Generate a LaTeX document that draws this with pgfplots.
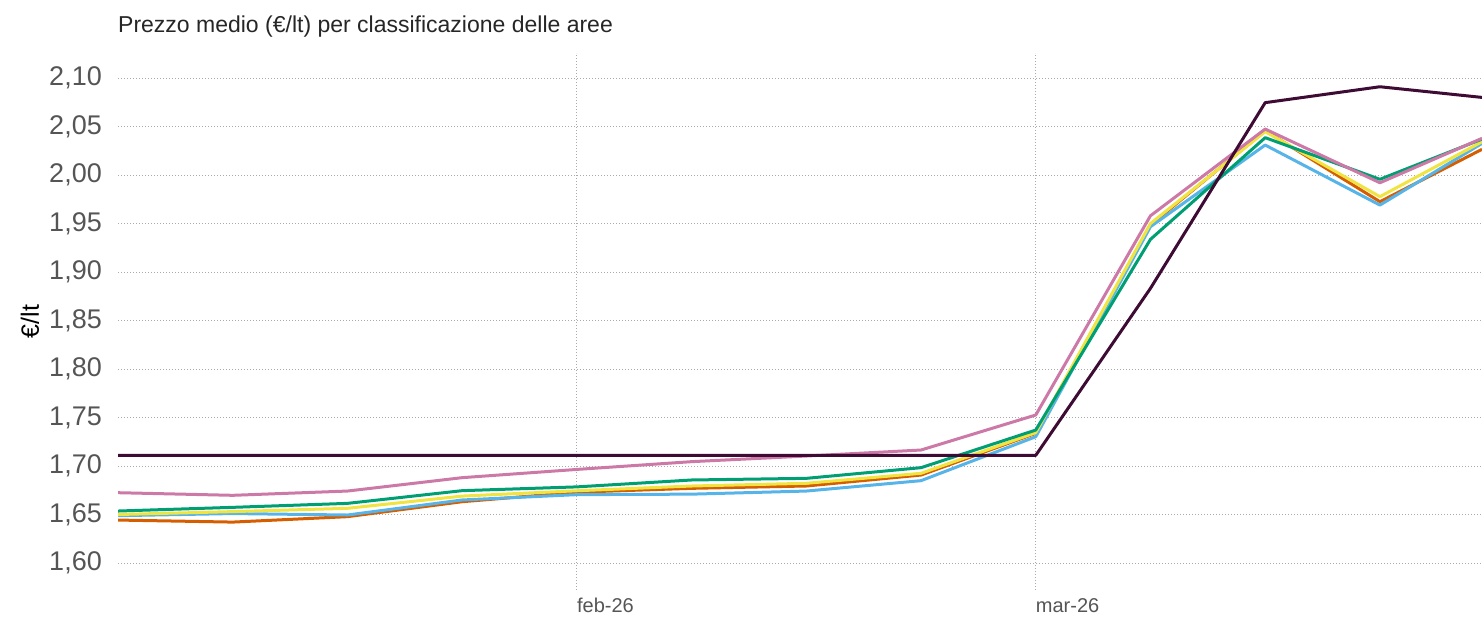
\documentclass[border=0pt]{standalone}
\usepackage{fontspec}
\setmainfont{Liberation Sans}
\usepackage{pgfplots}
\pgfplotsset{compat=1.18}
\definecolor{cblack}{HTML}{3D0B34}
\definecolor{cpink}{HTML}{CC79A7}
\definecolor{cgreen}{HTML}{009E73}
\definecolor{cyellow}{HTML}{F0E442}
\definecolor{corange}{HTML}{D55E00}
\definecolor{cblue}{HTML}{56B4E9}
\definecolor{ctick}{HTML}{555555}
\definecolor{cgrid}{HTML}{AAAAAA}
\begin{document}
\begin{tikzpicture}[x=1pt,y=1pt]
\path[use as bounding box] (0,0) rectangle (1482,617);
\node[anchor=base west, inner sep=0pt, font=\fontsize{23}{25}\selectfont, text=black!85] at (118,584) {Prezzo medio (€/lt) per classificazione delle aree};
\begin{axis}[
  at={(118pt,27pt)}, anchor=south west,
  scale only axis, width=1364pt, height=537pt,
  xmin=0, xmax=11.89, ymin=1.5722, ymax=2.1258,
  axis line style={draw=none},
  major tick length=0pt,
  xtick={4,8}, xticklabels={feb-26,mar-26},
  ytick={1.60,1.65,...,2.11},
  /pgf/number format/.cd, use comma, fixed, fixed zerofill, precision=2, assume math mode=true,
  /pgfplots/.cd,
  yticklabel style={font=\fontsize{27}{28}\selectfont, text=ctick, anchor=east, inner sep=0pt, xshift=-16pt},
  xticklabel style={font=\fontsize{20}{22}\selectfont, text=ctick, anchor=north west, inner sep=0pt, yshift=-8pt},
  ylabel={€/lt},
  every axis y label/.style={at={(axis description cs:-0.0645,0.5)}, rotate=90, anchor=center, font=\fontsize{25}{27}\selectfont, text=black},
  xmajorgrids, ymajorgrids,
  major grid style={draw=cgrid, line width=0.8pt, dash pattern=on 1.2pt off 1.8pt},
  every axis plot/.append style={line width=3pt, line join=round},
  clip=true,
]
\addplot[corange] coordinates {(0,1.6443) (1,1.6422) (2,1.6478) (3,1.6632) (4,1.6730) (5,1.6770) (6,1.6794) (7,1.6907) (8,1.7337) (9,1.9485) (10,2.0457) (11,1.9725) (11.89,2.0265)};
\addplot[cblue] coordinates {(0,1.6488) (1,1.6510) (2,1.6495) (3,1.6650) (4,1.6705) (5,1.6710) (6,1.6742) (7,1.6849) (8,1.7302) (9,1.9467) (10,2.0309) (11,1.9690) (11.89,2.0326)};
\addplot[cyellow] coordinates {(0,1.6500) (1,1.6530) (2,1.6564) (3,1.6690) (4,1.6745) (5,1.6794) (6,1.6822) (7,1.6925) (8,1.7344) (9,1.9500) (10,2.0447) (11,1.9777) (11.89,2.0343)};
\addplot[cgreen] coordinates {(0,1.6536) (1,1.6574) (2,1.6615) (3,1.6746) (4,1.6785) (5,1.6856) (6,1.6873) (7,1.6983) (8,1.7371) (9,1.9337) (10,2.0385) (11,1.9956) (11.89,2.0370)};
\addplot[cpink] coordinates {(0,1.6725) (1,1.6698) (2,1.6742) (3,1.6880) (4,1.6965) (5,1.7045) (6,1.7103) (7,1.7165) (8,1.7526) (9,1.9580) (10,2.0474) (11,1.9920) (11.89,2.0378)};
\addplot[cblack] coordinates {(0,1.711) (1,1.711) (2,1.711) (3,1.711) (4,1.711) (5,1.711) (6,1.711) (7,1.711) (8,1.711) (9,1.8832) (10,2.0746) (11,2.0910) (11.89,2.0800)};
\end{axis}
\end{tikzpicture}
\end{document}
